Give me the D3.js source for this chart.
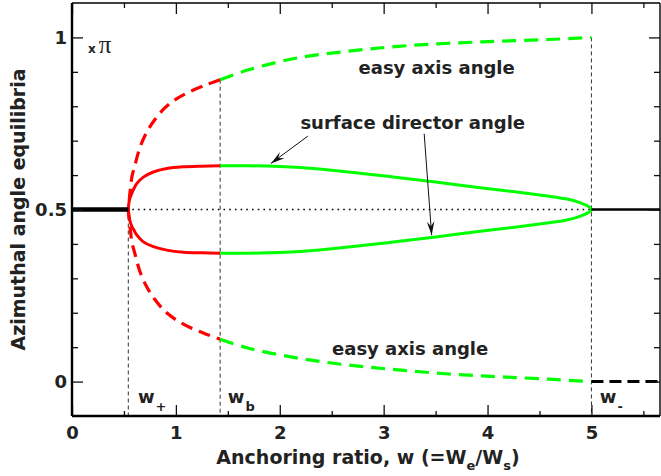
<!DOCTYPE html>
<html>
<head>
<meta charset="utf-8">
<script src="https://cdn.jsdelivr.net/npm/d3@7"></script>
<style>
  body { margin: 0; background: #fff; }
  text { font-family: "DejaVu Sans", "Liberation Sans", Arial, sans-serif; font-weight: bold; fill: #222; }
</style>
</head>
<body>
<div id="chart"></div>
<script>
// tick values
const xMajor = [0, 1, 2, 3, 4, 5]
const xMinor = [0.5, 1.5, 2.5, 3.5, 4.5, 5.5]
const yMajor = [0, 0.5, 1]
const yMinor = [0.1, 0.2, 0.3, 0.4, 0.6, 0.7, 0.8, 0.9]
const yLabels = ["0", "0.5", "1"]

// critical anchoring ratios
const wPlus = 0.542
const wB = 1.426
const wMinus = 5.0
const wMax = 5.66

// surface director angle (units of pi), red = before w_b, green = after
const dirUpperRed = [[0.542, 0.5], [0.546, 0.515], [0.555, 0.53], [0.575, 0.547], [0.6, 0.563], [0.623, 0.575],
  [0.687, 0.594], [0.783, 0.609], [0.912, 0.619], [1.072, 0.624], [1.25, 0.626], [1.426, 0.627]]
const dirLowerRed = [[0.542, 0.5], [0.546, 0.485], [0.555, 0.47], [0.575, 0.452], [0.6, 0.438], [0.623, 0.426],
  [0.687, 0.406], [0.783, 0.392], [0.912, 0.382], [1.072, 0.376], [1.25, 0.374], [1.426, 0.373]]
const dirUpperGreen = [[1.426, 0.627], [1.7, 0.627], [2.0, 0.625], [2.2, 0.622], [2.5, 0.614], [2.967, 0.599],
  [3.11, 0.594], [3.5, 0.58], [3.93, 0.563], [4.3, 0.55], [4.573, 0.539], [4.75, 0.531], [4.86, 0.523],
  [4.93, 0.515], [4.975, 0.508], [5.0, 0.5]]
const dirLowerGreen = [[1.426, 0.373], [1.7, 0.373], [2.0, 0.375], [2.2, 0.378], [2.5, 0.386], [2.967, 0.401],
  [3.11, 0.406], [3.5, 0.42], [3.93, 0.437], [4.3, 0.45], [4.573, 0.461], [4.75, 0.469], [4.86, 0.477],
  [4.93, 0.485], [4.975, 0.492], [5.0, 0.5]]

// easy axis angle
const easyUpperRed = [[0.542, 0.5], [0.552, 0.53], [0.562, 0.56], [0.577, 0.595], [0.607, 0.63], [0.655, 0.681],
  [0.72, 0.725], [0.8, 0.762], [0.896, 0.796], [1.009, 0.822], [1.137, 0.843], [1.298, 0.863], [1.426, 0.877]]
const easyLowerRed = [[0.542, 0.5], [0.552, 0.47], [0.562, 0.44], [0.577, 0.405], [0.607, 0.37], [0.655, 0.319],
  [0.72, 0.275], [0.8, 0.238], [0.896, 0.204], [1.009, 0.178], [1.137, 0.157], [1.298, 0.137], [1.426, 0.123]]
const easyUpperGreen = [[1.426, 0.877], [1.7, 0.906], [2.18, 0.941], [2.66, 0.96], [3.14, 0.974], [3.63, 0.983],
  [4.11, 0.989], [4.59, 0.994], [5.0, 1.0]]
const easyLowerGreen = [[1.426, 0.123], [1.7, 0.097], [2.18, 0.068], [2.66, 0.048], [3.14, 0.034], [3.63, 0.022],
  [4.11, 0.014], [4.59, 0.007], [5.0, 0.0]]

// single stable branch at 0.5 and easy axis at 0 beyond w_-
const stableLeft = [[0, 0.5], [wPlus, 0.5]]
const stableRight = [[wMinus, 0.5], [wMax, 0.5]]
const easyRight = [[wMinus, 0.0], [wMax, 0.0]]

const W = 661
const H = 476
const margin = { top: 3, right: 1, bottom: 60, left: 72 }

const svg = d3.select("#chart").append("svg").attr("width", W).attr("height", H)

const x = d3.scaleLinear().domain([0, wMax]).range([margin.left, W - margin.right])
const y = d3.scaleLinear().domain([-0.1, 1.1]).range([H - margin.bottom, margin.top])

// branches that meet at a turning point are drawn as one path so the nose is round
const smooth = d3.line()
  .x(d => x(d[0]))
  .y(d => y(d[1]))
  .curve(d3.curveCatmullRom.alpha(0.5))
const straight = d3.line().x(d => x(d[0])).y(d => y(d[1]))

// thin dashed guides at the critical ratios
const guides = [[wPlus, 0.5], [wB, 0.877], [wMinus, 1.0]]
svg.selectAll(".guide")
  .data(guides)
  .join("line")
  .attr("class", "guide")
  .attr("x1", d => x(d[0]))
  .attr("x2", d => x(d[0]))
  .attr("y1", d => y(d[1]))
  .attr("y2", y(-0.1))
  .attr("stroke", "#333")
  .attr("stroke-width", 1)
  .attr("stroke-dasharray", "4,3")

// dotted unstable 0.5 line
svg.append("line")
  .attr("x1", x(wPlus) + 4)
  .attr("x2", x(wMinus))
  .attr("y1", y(0.5))
  .attr("y2", y(0.5))
  .attr("stroke", "#000")
  .attr("stroke-width", 1.6)
  .attr("stroke-dasharray", "1.6,4.1")

const curves = [
  { d: smooth(easyUpperRed.slice().reverse().concat(easyLowerRed.slice(1))), color: "#ff0000", dash: "12,7", w: 3.2 },
  { d: smooth(easyUpperGreen), color: "#00ff00", dash: "14,8", w: 3.2 },
  { d: smooth(easyLowerGreen), color: "#00ff00", dash: "14,8", w: 3.2 },
  { d: smooth(dirUpperRed.slice().reverse().concat(dirLowerRed.slice(1))), color: "#ff0000", dash: null, w: 3 },
  { d: smooth(dirUpperGreen.concat(dirLowerGreen.slice().reverse().slice(1))), color: "#00ff00", dash: null, w: 3 },
  { d: straight(stableLeft), color: "#000", dash: null, w: 4.5 },
  { d: straight(stableRight), color: "#000", dash: null, w: 2.6 },
  { d: straight(easyRight), color: "#000", dash: "12,6", w: 3 }
]

svg.selectAll(".curve")
  .data(curves)
  .join("path")
  .attr("class", "curve")
  .attr("d", d => d.d)
  .attr("fill", "none")
  .attr("stroke", d => d.color)
  .attr("stroke-width", d => d.w)
  .attr("stroke-dasharray", d => d.dash)

// axes, ticks pointing inward on all four sides
const plotW = W - margin.left - margin.right
const plotH = H - margin.top - margin.bottom

function addAxis(axis, tx, ty) {
  const g = svg.append("g").attr("transform", `translate(${tx},${ty})`).call(axis)
  g.select(".domain").remove()
  g.selectAll("line").attr("stroke", "#111").attr("stroke-width", 1.3)
  g.attr("font-family", null).attr("font-size", null)
  return g
}

const bottom = addAxis(d3.axisBottom(x).tickValues(xMajor).tickSizeInner(-11).tickSizeOuter(0).tickPadding(10)
  .tickFormat(d3.format("d")), 0, H - margin.bottom)
bottom.selectAll("text").attr("font-size", 18).attr("fill", "#222")
addAxis(d3.axisBottom(x).tickValues(xMinor).tickSizeInner(-5).tickSizeOuter(0).tickFormat(""), 0, H - margin.bottom)
addAxis(d3.axisTop(x).tickValues(xMajor).tickSizeInner(-11).tickSizeOuter(0).tickFormat(""), 0, margin.top)
addAxis(d3.axisTop(x).tickValues(xMinor).tickSizeInner(-5).tickSizeOuter(0).tickFormat(""), 0, margin.top)

const left = addAxis(d3.axisLeft(y).tickValues(yMajor).tickSizeInner(-11).tickSizeOuter(0).tickPadding(5)
  .tickFormat((d, i) => yLabels[i]), margin.left, 0)
left.selectAll("text").attr("font-size", 18).attr("fill", "#222")
addAxis(d3.axisLeft(y).tickValues(yMinor).tickSizeInner(-6).tickSizeOuter(0).tickFormat(""), margin.left, 0)
addAxis(d3.axisRight(y).tickValues(yMajor).tickSizeInner(-11).tickSizeOuter(0).tickFormat(""), W - margin.right, 0)
addAxis(d3.axisRight(y).tickValues(yMinor).tickSizeInner(-6).tickSizeOuter(0).tickFormat(""), W - margin.right, 0)

// frame
svg.append("line").attr("x1", margin.left).attr("x2", margin.left).attr("y1", margin.top).attr("y2", margin.top + plotH)
  .attr("stroke", "#000").attr("stroke-width", 2.4)
svg.append("line").attr("x1", margin.left).attr("x2", margin.left + plotW).attr("y1", margin.top + plotH).attr("y2", margin.top + plotH)
  .attr("stroke", "#000").attr("stroke-width", 2.4)
svg.append("line").attr("x1", margin.left).attr("x2", margin.left + plotW).attr("y1", margin.top).attr("y2", margin.top)
  .attr("stroke", "#000").attr("stroke-width", 1.4)
svg.append("line").attr("x1", margin.left + plotW).attr("x2", margin.left + plotW).attr("y1", margin.top).attr("y2", margin.top + plotH)
  .attr("stroke", "#000").attr("stroke-width", 1.4)

// axis titles
const xTitle = svg.append("text")
  .attr("x", 368)
  .attr("y", 464)
  .attr("text-anchor", "middle")
  .attr("font-size", 19)
xTitle.append("tspan").text("Anchoring ratio, w (=W")
xTitle.append("tspan").attr("dy", 6).attr("font-size", 13).text("e")
xTitle.append("tspan").attr("dy", -6).text("/W")
xTitle.append("tspan").attr("dy", 6).attr("font-size", 13).text("s")
xTitle.append("tspan").attr("dy", -6).text(")")

svg.append("text")
  .attr("transform", `translate(25,${y(0.5)}) rotate(-90)`)
  .attr("text-anchor", "middle")
  .attr("font-size", 19)
  .text("Azimuthal angle equilibria")

// "x pi" unit marker
const unit = svg.append("text").attr("x", x(0.155)).attr("y", y(0.955))
unit.append("tspan").attr("font-size", 12).text("x")
unit.append("tspan").attr("dx", 3).attr("font-size", 25).attr("font-weight", "normal")
  .attr("font-family", "Liberation Serif, serif").text("π")

// curve annotations
const labels = [
  { t: "easy axis angle", w: 3.51, a: 0.893 },
  { t: "easy axis angle", w: 3.255, a: 0.077 },
  { t: "surface director angle", w: 3.28, a: 0.734 }
]
svg.selectAll(".ann")
  .data(labels)
  .join("text")
  .attr("class", "ann")
  .attr("x", d => x(d.w))
  .attr("y", d => y(d.a))
  .attr("text-anchor", "middle")
  .attr("font-size", 18)
  .text(d => d.t)

// w+, wb, w- labels with subscripts
const wLabels = [
  { sub: "+", w: 0.635 },
  { sub: "b", w: 1.5 },
  { sub: "-", w: 5.08 }
]
const wl = svg.selectAll(".wl")
  .data(wLabels)
  .join("text")
  .attr("class", "wl")
  .attr("x", d => x(d.w))
  .attr("y", y(-0.061))
  .attr("font-size", 18)
wl.append("tspan").text("w")
wl.append("tspan").attr("dy", 8).attr("dx", 1).attr("font-size", 13).text(d => d.sub)

// arrows
svg.append("defs").append("marker")
  .attr("id", "head")
  .attr("viewBox", "-15 -5 16 10")
  .attr("refX", 0)
  .attr("refY", 0)
  .attr("markerWidth", 16)
  .attr("markerHeight", 10)
  .attr("markerUnits", "userSpaceOnUse")
  .attr("orient", "auto")
  .append("path")
  .attr("d", "M0,0 L-14,-3.8 L-9,0 L-14,3.8 Z")
  .attr("fill", "#111")

const arrows = [
  { from: [2.27, 0.713], to: [1.915, 0.634] },
  { from: [3.39, 0.72], to: [3.462, 0.425] }
]
svg.selectAll(".arrow")
  .data(arrows)
  .join("line")
  .attr("class", "arrow")
  .attr("x1", d => x(d.from[0]))
  .attr("y1", d => y(d.from[1]))
  .attr("x2", d => x(d.to[0]))
  .attr("y2", d => y(d.to[1]))
  .attr("stroke", "#111")
  .attr("stroke-width", 1)
  .attr("marker-end", "url(#head)")
</script>
</body>
</html>
